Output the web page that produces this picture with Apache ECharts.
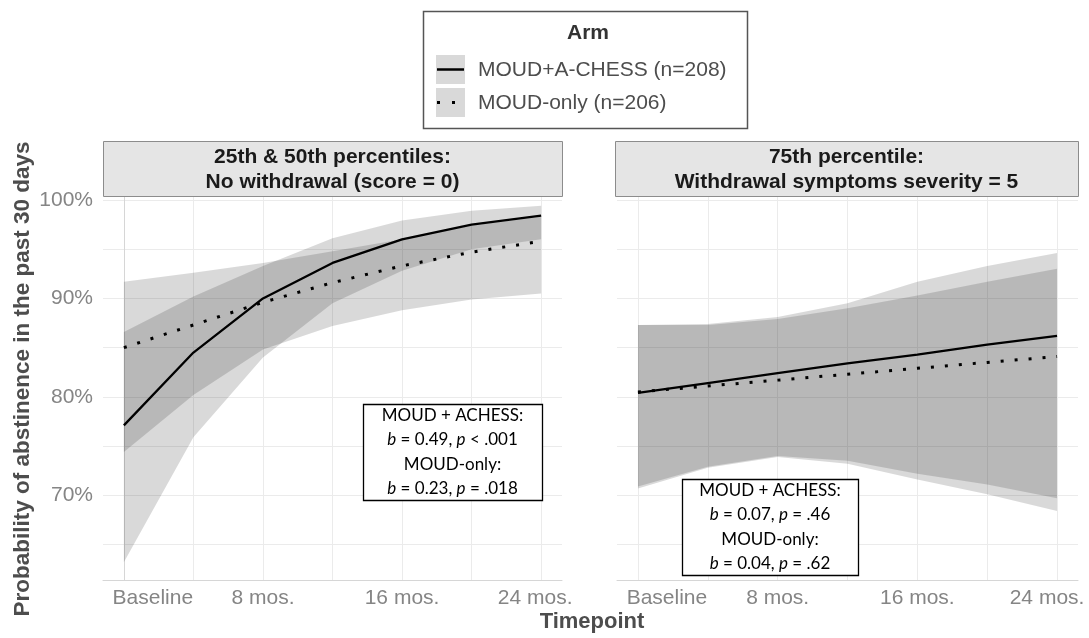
<!DOCTYPE html>
<html>
<head>
<meta charset="utf-8">
<script src="https://cdn.jsdelivr.net/npm/echarts@6/dist/echarts.min.js"></script>
<style>
html,body{margin:0;padding:0;background:#fff;}
#chart{width:1089px;height:638px;}
</style>
</head>
<body>
<div id="chart"></div>
<script>
// ---- data ----
const times = [0, 4, 8, 12, 16, 20, 24];
const xLabelMonths = [0, 8, 16, 24];
const xTickLabels = ['Baseline', '8 mos.', '16 mos.', '24 mos.'];
const yTickValues = [70, 80, 90, 100];
const yGridValues = [65, 70, 75, 80, 85, 90, 95, 100];

const armNames = ['MOUD+A-CHESS (n=208)', 'MOUD-only (n=206)'];
const panelTitles = [
  ['25th & 50th percentiles:', 'No withdrawal (score = 0)'],
  ['75th percentile:', 'Withdrawal symptoms severity = 5']
];

// Left panel: no withdrawal
const leftChessMean = [77.1, 84.5, 90.0, 93.6, 96.0, 97.5, 98.4];
const leftChessLow  = [63.2, 75.9, 84.0, 89.5, 92.8, 95.0, 96.0];
const leftChessHigh = [86.6, 90.2, 93.3, 96.1, 97.9, 98.9, 99.4];
const leftOnlyMean  = [85.0, 87.3, 89.6, 91.6, 93.3, 94.7, 95.8];
const leftOnlyLow   = [74.4, 80.2, 84.8, 87.2, 88.8, 89.9, 90.5];
const leftOnlyHigh  = [91.7, 92.6, 93.6, 94.8, 96.0, 97.4, 98.3];

// Right panel: withdrawal severity = 5
const rightChessMean = [80.4, 81.4, 82.4, 83.4, 84.3, 85.3, 86.2];
const rightChessLow  = [70.7, 72.8, 73.9, 73.2, 71.6, 70.1, 68.4];
const rightChessHigh = [87.3, 87.4, 88.1, 89.5, 91.7, 93.3, 94.6];
const rightOnlyMean  = [80.5, 81.1, 81.7, 82.3, 82.9, 83.5, 84.1];
const rightOnlyLow   = [70.9, 72.9, 74.0, 73.5, 72.2, 71.1, 69.7];
const rightOnlyHigh  = [87.3, 87.3, 87.9, 89.0, 90.3, 91.7, 93.0];

const annotations = [
  ['MOUD + ACHESS:', ['0.49', '< .001'], 'MOUD-only:', ['0.23', '= .018']],
  ['MOUD + ACHESS:', ['0.07', '= .46'], 'MOUD-only:', ['0.04', '= .62']]
];

// ---- chart ----
const FONT = 'Liberation Sans, Arial, sans-serif';
const ANNFONT = 'Lato, sans-serif';
const tickColor = '#858585';
const bandFill = 'rgba(0,0,0,0.15)';

const chart = echarts.init(document.getElementById('chart'), null, {renderer: 'canvas'});

const grids = [
  {left: 103, top: 196, width: 459, height: 384},
  {left: 617, top: 196, width: 461, height: 384}
];

function xAxisFor(i) {
  const lastPad = i === 0 ? 12 : 20;
  return {
    type: 'value', gridIndex: i, min: -1.2, max: 25.2,
    axisLine: {show: true, lineStyle: {color: '#d6d6d6', width: 1}},
    axisTick: {show: false, customValues: times},
    splitLine: {show: true, lineStyle: {color: '#ebebeb', width: 1}},
    axisLabel: {
      customValues: xLabelMonths,
      showMinLabel: true, showMaxLabel: true,
      margin: 8, color: tickColor, fontSize: 21, fontFamily: FONT,
      formatter: function (v) {
        const k = xLabelMonths.indexOf(v);
        const s = xTickLabels[k];
        if (k === 0) return '{first|' + s + '}';
        if (k === xLabelMonths.length - 1) return '{last|' + s + '}';
        return s;
      },
      rich: {
        first: {padding: [0, 0, 0, 58], fontSize: 21, color: tickColor, fontFamily: FONT},
        last: {padding: [0, lastPad, 0, 0], fontSize: 21, color: tickColor, fontFamily: FONT}
      }
    }
  };
}

function yAxisFor(i) {
  return {
    type: 'value', gridIndex: i, min: 61.4, max: 100.4,
    axisLine: {show: i === 0, lineStyle: {color: '#d6d6d6', width: 1}},
    axisTick: {show: false, customValues: yGridValues},
    splitLine: {show: true, lineStyle: {color: '#ebebeb', width: 1}},
    axisLabel: {
      show: i === 0,
      customValues: yTickValues,
      margin: 10, color: tickColor, fontSize: 21, fontFamily: FONT,
      formatter: function (v) { return v + '%'; }
    }
  };
}

function pairs(arr) { return times.map((t, k) => [t, arr[k]]); }

// confidence ribbon: one polygon through the axis scales
function bandSeries(g, lo, hi) {
  return {
    type: 'custom', xAxisIndex: g, yAxisIndex: g, silent: true, z: 1,
    data: times.map((t, k) => [t, lo[k], hi[k]]),
    encode: {x: 0, y: [1, 2]},
    renderItem: function (params, api) {
      if (params.dataIndex !== 0) return null;
      const upper = times.map((t, k) => api.coord([t, hi[k]]));
      const lower = times.map((t, k) => api.coord([t, lo[k]])).reverse();
      return {
        type: 'polygon',
        shape: {points: upper.concat(lower)},
        style: {fill: bandFill}
      };
    }
  };
}
function solidSeries(g, mean) {
  return {type: 'line', xAxisIndex: g, yAxisIndex: g, data: pairs(mean), symbol: 'none',
          lineStyle: {color: '#000', width: 2.3}, z: 5, silent: true};
}
function dottedSeries(g, mean) {
  return {type: 'line', xAxisIndex: g, yAxisIndex: g, data: pairs(mean), symbol: 'none',
          lineStyle: {color: '#000', width: 3, type: [3, 11], cap: 'butt'}, z: 5, silent: true};
}

const series = [
  bandSeries(0, leftChessLow, leftChessHigh),
  bandSeries(0, leftOnlyLow, leftOnlyHigh),
  bandSeries(1, rightChessLow, rightChessHigh),
  bandSeries(1, rightOnlyLow, rightOnlyHigh),
  solidSeries(0, leftChessMean), dottedSeries(0, leftOnlyMean),
  solidSeries(1, rightChessMean), dottedSeries(1, rightOnlyMean)
];

// ---- graphic layer: strips, legend, annotation boxes, titles ----
const graphic = [];

const strips = [
  {x: 103, w: 459},
  {x: 615, w: 463}
];
strips.forEach((s, i) => {
  graphic.push({type: 'rect', z: 10, shape: {x: s.x + 0.5, y: 141.5, width: s.w, height: 55},
    style: {fill: '#e5e5e5', stroke: '#8c8c8c', lineWidth: 1}});
  graphic.push({type: 'text', z: 11, x: s.x + s.w / 2, y: 157,
    style: {text: panelTitles[i][0], font: 'bold 21px ' + FONT, fill: '#1a1a1a', align: 'center', verticalAlign: 'middle'}});
  graphic.push({type: 'text', z: 11, x: s.x + s.w / 2, y: 182,
    style: {text: panelTitles[i][1], font: 'bold 21px ' + FONT, fill: '#1a1a1a', align: 'center', verticalAlign: 'middle'}});
});

// legend
graphic.push({type: 'rect', z: 10, shape: {x: 423.5, y: 11.5, width: 324, height: 117},
  style: {fill: '#fff', stroke: '#555', lineWidth: 1.5}});
graphic.push({type: 'text', z: 11, x: 588, y: 33,
  style: {text: 'Arm', font: 'bold 21px ' + FONT, fill: '#333', align: 'center', verticalAlign: 'middle'}});
graphic.push({type: 'rect', z: 11, shape: {x: 436, y: 55, width: 29, height: 29}, style: {fill: '#d9d9d9'}});
graphic.push({type: 'rect', z: 11, shape: {x: 436, y: 88, width: 29, height: 29}, style: {fill: '#d9d9d9'}});
graphic.push({type: 'line', z: 12, shape: {x1: 437, y1: 69.5, x2: 464, y2: 69.5}, style: {stroke: '#000', lineWidth: 2.5}});
graphic.push({type: 'line', z: 12, shape: {x1: 437, y1: 102.5, x2: 464, y2: 102.5},
  style: {stroke: '#000', lineWidth: 3, lineDash: [3, 12]}});
graphic.push({type: 'text', z: 11, x: 478, y: 70,
  style: {text: armNames[0], font: '21px ' + FONT, fill: '#4d4d4d', align: 'left', verticalAlign: 'middle'}});
graphic.push({type: 'text', z: 11, x: 478, y: 103,
  style: {text: armNames[1], font: '21px ' + FONT, fill: '#4d4d4d', align: 'left', verticalAlign: 'middle'}});

// annotation boxes
const annBoxes = [
  {x: 363, y: 404, w: 179, h: 96, lines: [416, 440, 465, 489]},
  {x: 682, y: 479, w: 176, h: 96, lines: [491, 515, 540, 564]}
];
annBoxes.forEach((b, i) => {
  graphic.push({type: 'rect', z: 20, shape: {x: b.x + 0.5, y: b.y + 0.5, width: b.w, height: b.h},
    style: {fill: '#fff', stroke: '#000', lineWidth: 1.3}});
  const a = annotations[i];
  const texts = [
    a[0],
    '{i|b} = ' + a[1][0] + ', {i|p} ' + a[1][1],
    a[2],
    '{i|b} = ' + a[3][0] + ', {i|p} ' + a[3][1]
  ];
  texts.forEach((t, k) => {
    graphic.push({type: 'text', z: 21, x: b.x + b.w / 2, y: b.lines[k],
      style: {text: t, font: '17px ' + ANNFONT, fill: '#000', align: 'center', verticalAlign: 'middle',
              rich: {i: {font: 'italic 17px ' + ANNFONT, fill: '#000'}}}});
  });
});

// axis titles
graphic.push({type: 'text', z: 11, x: 592, y: 622,
  style: {text: 'Timepoint', font: 'bold 22px ' + FONT, fill: '#4d4d4d', align: 'center', verticalAlign: 'middle'}});
graphic.push({type: 'text', z: 11, x: 23, y: 379, rotation: Math.PI / 2,
  style: {text: 'Probability of abstinence in the past 30 days', font: 'bold 22.5px ' + FONT, fill: '#4d4d4d',
          align: 'center', verticalAlign: 'middle'}});

chart.setOption({
  animation: false,
  backgroundColor: '#fff',
  grid: grids.map(g => Object.assign({outerBoundsMode: 'none', containLabel: false}, g)),
  xAxis: [xAxisFor(0), xAxisFor(1)],
  yAxis: [yAxisFor(0), yAxisFor(1)],
  series: series,
  graphic: graphic
});
</script>
</body>
</html>
